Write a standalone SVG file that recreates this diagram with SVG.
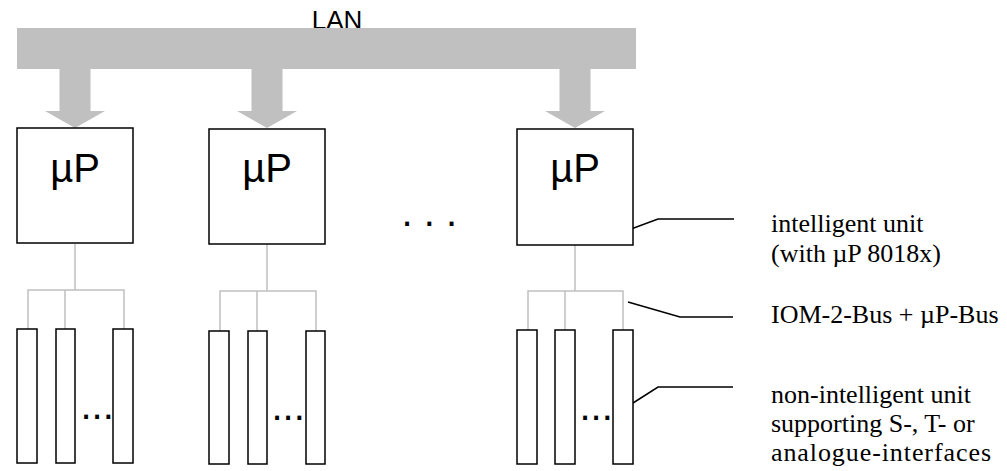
<svg xmlns="http://www.w3.org/2000/svg" width="1007" height="471" viewBox="0 0 1007 471">
<style>
.box{fill:#fff;stroke:#000;stroke-width:1.5}
.bus{fill:none;stroke:#c0c0c0;stroke-width:1.5}
.lan{fill:#c0c0c0;stroke:none}
.call{fill:none;stroke:#000;stroke-width:1.5}
.mp{font-family:"Liberation Sans",Arial,sans-serif;font-size:40px;fill:#000}
.dots{font-family:"Liberation Sans",Arial,sans-serif;font-size:40px;fill:#000}
.lbl{font-family:"Liberation Serif","Times New Roman",serif;font-size:26px;fill:#000}
</style>
<rect width="1007" height="471" fill="#fff"/>
<g id="lan">
<text x="337" y="29" text-anchor="middle" style="font-family:'Liberation Sans',Arial,sans-serif;font-size:26px">LAN</text>
<rect class="lan" x="17" y="28" width="619" height="41"/>
</g>
<g id="connectors">
<polygon class="lan" points="59.5,68 90.5,68 90.5,111 105,111 75,128 45,111 59.5,111"/>
<polygon class="lan" points="251.5,68 282.5,68 282.5,111 297,111 267,128 237,111 251.5,111"/>
<polygon class="lan" points="559.5,68 590.5,68 590.5,111 605,111 575,128 545,111 559.5,111"/>
<path class="bus" d="M75,244V290M28,330V290H124V330M65,290V330"/>
<path class="bus" d="M267,244V291M220,331V291H316V331M257,291V331"/>
<path class="bus" d="M575,245V291M528,330V291H623V330M565,291V330"/>
<path class="call" d="M623,232L658,219H734"/>
<path class="call" d="M628,302L680,317H733"/>
<path class="call" d="M633,403L658,387H733"/>
</g>
<g id="unit1">
<rect class="box" x="17" y="128" width="116" height="115"/>
<text class="mp" x="75" y="182" text-anchor="middle">µP</text>
</g>
<g id="unit2">
<rect class="box" x="209" y="129" width="116" height="115"/>
<text class="mp" x="267" y="182" text-anchor="middle">µP</text>
</g>
<g id="unit3">
<rect class="box" x="517" y="129" width="116" height="116"/>
<text class="mp" x="575" y="182" text-anchor="middle">µP</text>
</g>
<g id="ni1">
<rect class="box" x="17" y="329" width="20" height="134"/>
<rect class="box" x="56" y="329" width="19" height="134"/>
<rect class="box" x="113" y="329" width="20" height="134"/>
<text class="dots" x="80.5" y="419">...</text>
</g>
<g id="ni2">
<rect class="box" x="209" y="331" width="20" height="133"/>
<rect class="box" x="248" y="331" width="19" height="133"/>
<rect class="box" x="306" y="331" width="19" height="133"/>
<text class="dots" x="271.5" y="420">...</text>
</g>
<g id="ni3">
<rect class="box" x="517" y="330" width="20" height="134"/>
<rect class="box" x="555" y="330" width="20" height="134"/>
<rect class="box" x="613" y="330" width="20" height="134"/>
<text class="dots" x="579.5" y="420">...</text>
</g>
<g id="mid-dots">
<text class="dots" x="401.5" y="226">. . .</text>
</g>
<g id="labels">
<text class="lbl" x="771" y="232">intelligent unit</text>
<text class="lbl" x="771" y="262">(with µP 8018x)</text>
<text class="lbl" x="771" y="323">IOM-2-Bus + µP-Bus</text>
<text class="lbl" x="771" y="403">non-intelligent unit</text>
<text class="lbl" x="771" y="432">supporting S-, T- or</text>
<text class="lbl" x="771" y="461" textLength="220" lengthAdjust="spacing">analogue-interfaces</text>
</g>
</svg>
